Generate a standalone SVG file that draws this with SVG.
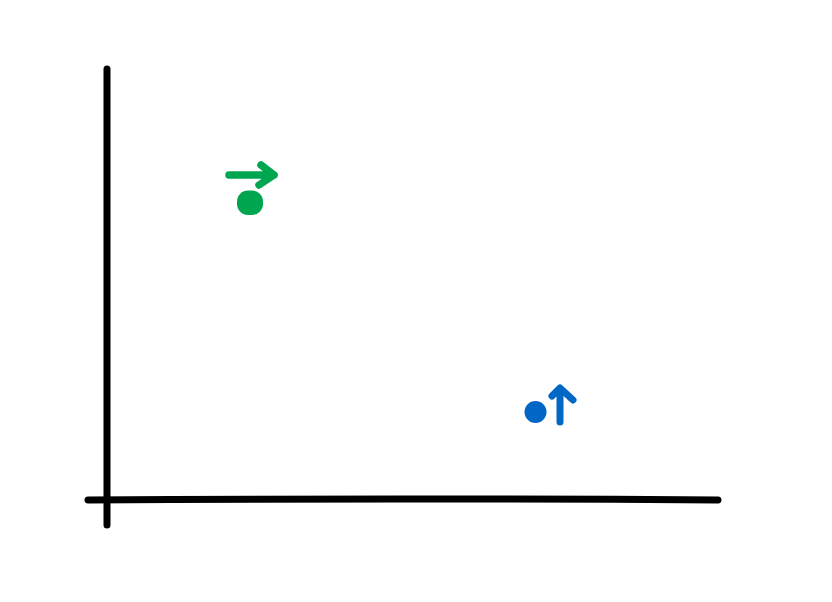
<svg xmlns="http://www.w3.org/2000/svg" width="832" height="602" viewBox="0 0 832 602">
<style>
.axis{stroke:#000;stroke-width:7;stroke-linecap:round;fill:none}
.g{stroke:#00a550;stroke-width:7.5;stroke-linecap:round;stroke-linejoin:round;fill:none}
.b{stroke:#0067c4;stroke-width:7;stroke-linecap:round;stroke-linejoin:round;fill:none}
</style>
<rect width="832" height="602" fill="#fff"/>
<g id="axes">
<path class="axis" d="M107 69 L107 525"/>
<path class="axis" d="M88 500 Q400 498 718 500"/>
</g>
<g id="green">
<path class="g" d="M229 175 L274 175 M261 165 L274 175 L259 185"/>
<rect x="237" y="190.5" width="26" height="24.5" rx="11" fill="#00a550"/>
</g>
<g id="blue">
<circle cx="535.5" cy="412" r="11" fill="#0067c4"/>
<path class="b" d="M560 422 L560 389 M552 396 L560 388 L573 400"/>
</g>
</svg>
